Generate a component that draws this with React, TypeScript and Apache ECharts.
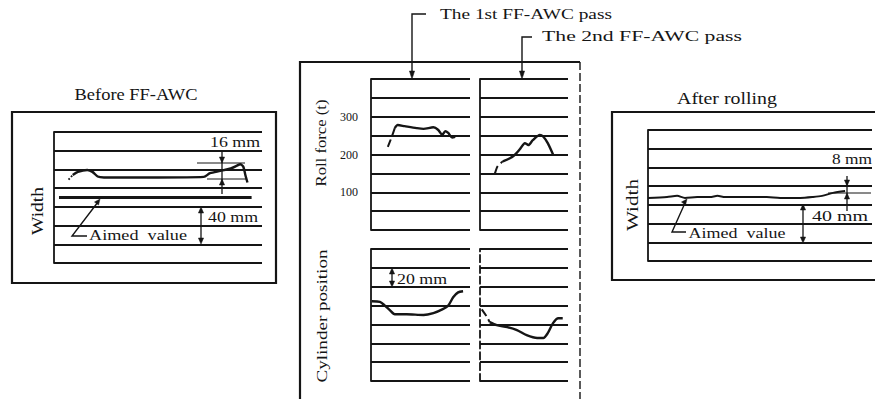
import React, { useEffect, useRef } from "react";
import * as echarts from "echarts";

// ---------- data ----------
// Before FF-AWC: width trace (x = % of length, y = grid units, 1 unit ≈ 20 mm)
const beforeX = [7, 9, 11.5, 16, 18.5, 21, 24, 50, 72, 75, 80, 85, 88, 89.5, 91, 92, 93];
const beforeY = [4.45, 4.7, 4.87, 4.97, 4.87, 4.62, 4.57, 4.57, 4.6, 4.8, 4.92, 5.05, 5.2, 5.28, 5.15, 4.7, 4.3];
const aimedBeforeX = [2.4, 95];
const aimedBeforeY = [3.5, 3.5];

// Roll force (t), 1st and 2nd FF-AWC pass
const rollTicks = [100, 200, 300];
const roll1X = [17, 21, 24, 27, 34, 46, 53, 63, 68, 72, 75, 78, 82, 85];
const roll1Y = [220, 247, 270, 278, 275, 270, 268, 272, 265, 252, 262, 257, 245, 247];
const roll2X = [17, 20, 26, 34, 40, 45, 51, 55, 60, 68, 72, 77, 83];
const roll2Y = [150, 169, 182, 190, 200, 213, 230, 225, 238, 252, 247, 230, 200];

// Cylinder position (grid units, 1 unit = 20 mm)
const cyl1X = [1, 9, 14, 19, 24, 36, 53, 63, 72, 78, 83, 88, 93];
const cyl1Y = [4.23, 4.2, 4.0, 3.76, 3.54, 3.54, 3.5, 3.6, 3.8, 4.0, 4.44, 4.7, 4.76];
const cyl2X = [2, 8, 11, 19, 31, 42, 53, 65, 72, 77, 83, 89, 94];
const cyl2Y = [3.8, 3.39, 3.12, 2.96, 2.86, 2.7, 2.43, 2.28, 2.28, 2.54, 3.07, 3.33, 3.33];

// After rolling: width trace
const afterX = [0, 8.5, 13, 16.5, 22, 27.7, 31, 34.4, 41, 53, 59, 68, 73.7, 77.7, 82.6, 88];
const afterY = [3.37, 3.42, 3.48, 3.37, 3.42, 3.42, 3.48, 3.42, 3.42, 3.42, 3.37, 3.37, 3.42, 3.48, 3.64, 3.74];

// ---------- helpers ----------
const FONT = '"Liberation Serif", "Times New Roman", serif';
const INK = "#151515";

const zip = (xs: number[], ys: number[]) => xs.map((x, i) => [x, ys[i]]);

function measure(text: string, size: number): number {
  const ctx = document.createElement("canvas").getContext("2d");
  if (!ctx) return text.length * size * 0.5;
  ctx.font = `${size}px ${FONT}`;
  return ctx.measureText(text).width;
}

function label(text: string, cx: number, cy: number, w: number, size: number, rot = 0) {
  const m = measure(text, size);
  return {
    type: "text",
    x: cx,
    y: cy,
    rotation: rot,
    scaleX: w / m,
    silent: true,
    style: {
      text,
      fontFamily: FONT,
      fontSize: size,
      fill: INK,
      textAlign: "center",
      textVerticalAlign: "middle",
    },
  };
}

function seg(x1: number, y1: number, x2: number, y2: number, lw = 1.2) {
  return { type: "line", silent: true, shape: { x1, y1, x2, y2 }, style: { stroke: INK, lineWidth: lw } };
}

function poly(points: number[][], lw = 1.6) {
  return { type: "polyline", silent: true, shape: { points }, style: { stroke: INK, lineWidth: lw, fill: null } };
}

function head(x: number, y: number, dir: "up" | "down" | "ne", s = 6) {
  let pts: number[][];
  if (dir === "down") pts = [[x, y], [x - 2.6, y - s], [x + 2.6, y - s]];
  else if (dir === "up") pts = [[x, y], [x - 2.6, y + s], [x + 2.6, y + s]];
  else pts = [[x, y], [x - 5.5, y + 3], [x - 1.5, y + 6]];
  return { type: "polygon", silent: true, shape: { points: pts }, style: { fill: INK, stroke: INK, lineWidth: 0.5 } };
}

type G = { left: number; top: number; width: number; height: number };
const grids: G[] = [
  { left: 54, top: 132, width: 208, height: 131 }, // before
  { left: 371, top: 79, width: 99, height: 151 }, // roll force 1st
  { left: 480, top: 79, width: 88, height: 151 }, // roll force 2nd
  { left: 371, top: 249, width: 99, height: 132 }, // cylinder 1st
  { left: 480, top: 249, width: 88, height: 132 }, // cylinder 2nd
  { left: 648, top: 130, width: 224, height: 131 }, // after
];

function yAxisFor(i: number) {
  const isRoll = i === 1 || i === 2;
  return {
    gridIndex: i,
    type: "value",
    min: 0,
    max: isRoll ? 400 : 7,
    interval: isRoll ? 50 : 1,
    axisLine: {
      show: true,
      onZero: false,
      lineStyle: { color: INK, width: 1.8, type: i === 4 ? "dashed" : "solid" },
    },
    axisTick: { show: false },
    axisLabel: {
      show: i === 1,
      margin: 13,
      fontFamily: FONT,
      fontSize: 12,
      color: INK,
      formatter: (v: number) => (rollTicks.indexOf(v) >= 0 ? String(v) : ""),
    },
    splitLine: { show: true, showMinLine: true, showMaxLine: true, lineStyle: { color: INK, width: 1.8 } },
  };
}

function curve(i: number, xs: number[], ys: number[], lw = 2.4, type = "solid") {
  return {
    type: "line",
    xAxisIndex: i,
    yAxisIndex: i,
    data: zip(xs, ys),
    symbol: "none",
    smooth: 0.25,
    silent: true,
    lineStyle: { color: INK, width: lw, type },
  };
}

export default function App() {
  const ref = useRef<HTMLDivElement>(null);

  useEffect(() => {
    if (!ref.current) return;
    const chart = echarts.init(ref.current, undefined, { renderer: "svg" });

    const graphic: any[] = [
      // outer frames
      { type: "rect", silent: true, shape: { x: 12, y: 112, width: 264, height: 171 }, style: { stroke: INK, lineWidth: 2.2, fill: null } },
      poly([[300, 420], [300, 62], [580, 62]], 2.2),
      { type: "line", silent: true, shape: { x1: 580, y1: 62, x2: 580, y2: 420 }, style: { stroke: INK, lineWidth: 1.4, lineDash: [8, 3] } },
      poly([[900, 112], [612, 112], [612, 280], [900, 280]], 2.2),

      // titles
      label("Before FF-AWC", 136, 95, 123, 16),
      label("After rolling", 727, 99, 100, 16),
      label("The 1st FF-AWC pass", 526, 14, 172, 15),
      label("The 2nd FF-AWC pass", 642, 36, 200, 15),

      // axis titles (rotated)
      label("Width", 38, 211, 48, 16, Math.PI / 2),
      label("Width", 632, 205, 52, 16, Math.PI / 2),
      label("Roll force (t)", 321, 143, 87, 15, Math.PI / 2),
      label("Cylinder position", 322, 316, 133, 15, Math.PI / 2),

      // pass markers
      poly([[426, 14], [412, 14], [412, 72]], 1.4),
      head(412, 79, "down", 8),
      poly([[532, 37], [522, 37], [522, 72]], 1.4),
      head(522, 79, "down", 8),

      // ---- before panel annotations ----
      seg(197, 163, 245, 163, 1),
      seg(207, 179, 246, 179, 1),
      seg(222, 150, 222, 194, 1.3),
      head(222, 163, "down"),
      head(222, 179, "up"),
      label("16 mm", 235, 142, 50, 14),
      seg(201, 210, 201, 241, 1.3),
      head(201, 207, "up"),
      head(201, 244, "down"),
      label("40 mm", 233, 217, 50, 14),
      poly([[98, 202], [72, 236], [87, 236]], 1.4),
      head(100, 199, "ne"),
      label("Aimed  value", 138, 235, 98, 15),

      // ---- cylinder annotation ----
      seg(392, 271, 392, 284, 1.3),
      head(392, 268, "up"),
      head(392, 287, "down"),
      label("20 mm", 422, 279, 50, 14),

      // ---- after panel annotations ----
      seg(847, 176, 847, 211, 1.3),
      head(847, 186, "down"),
      head(847, 193, "up"),
      seg(828, 193, 871, 193, 1),
      label("8 mm", 852, 159, 40, 14),
      seg(803, 207, 803, 240, 1.3),
      head(803, 204, "up"),
      head(803, 243, "down"),
      label("40 mm", 840, 217, 56, 14),
      poly([[685, 203], [672, 232], [686, 232]], 1.4),
      head(687, 199, "ne"),
      label("Aimed  value", 737, 233, 97, 15),
    ];

    const option: any = {
      animation: false,
      backgroundColor: "#ffffff",
      grid: grids.map((g) => ({ ...g, containLabel: false })),
      xAxis: grids.map((_, i) => ({ gridIndex: i, type: "value", min: 0, max: 100, show: false })),
      yAxis: grids.map((_, i) => yAxisFor(i)),
      series: [
        curve(0, beforeX.slice(1), beforeY.slice(1)),
        curve(0, beforeX.slice(0, 2), beforeY.slice(0, 2), 1.8, "dotted"),
        {
          type: "line",
          xAxisIndex: 0,
          yAxisIndex: 0,
          data: zip(aimedBeforeX, aimedBeforeY),
          symbol: "none",
          silent: true,
          lineStyle: { color: INK, width: 2.8 },
        },
        curve(1, roll1X.slice(2), roll1Y.slice(2)),
        curve(1, roll1X.slice(0, 3), roll1Y.slice(0, 3), 2, "dashed"),
        curve(2, roll2X.slice(2), roll2Y.slice(2)),
        curve(2, roll2X.slice(0, 3), roll2Y.slice(0, 3), 2, "dashed"),
        curve(3, cyl1X, cyl1Y),
        curve(4, cyl2X.slice(2), cyl2Y.slice(2)),
        curve(4, cyl2X.slice(0, 3), cyl2Y.slice(0, 3), 2, "dashed"),
        curve(5, afterX, afterY, 2),
      ],
      graphic,
    };

    chart.setOption(option);
    return () => chart.dispose();
  }, []);

  return (
    <div
      ref={ref}
      style={{ position: "absolute", left: 0, top: 0, width: 875, height: 399, background: "#fff" }}
    />
  );
}
